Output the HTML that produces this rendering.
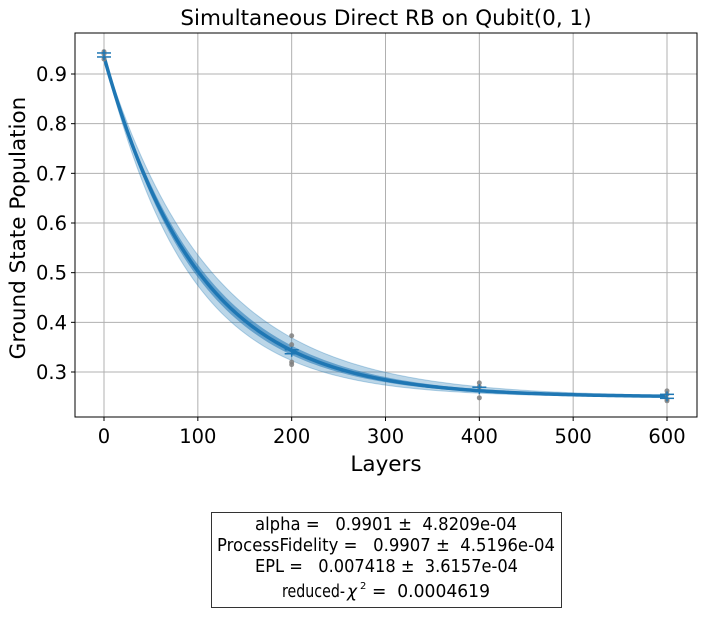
<!DOCTYPE html>
<html><head><meta charset="utf-8"><style>
body{margin:0;background:#fff;}
svg text{font-family:"DejaVu Sans","Liberation Sans",sans-serif;fill:#000;white-space:pre;}
</style></head><body>
<svg id="chart" width="706" height="612" xmlns="http://www.w3.org/2000/svg">
<rect width="706" height="612" fill="#fff"/>
<g id="grid"></g>
<g id="band"></g>
<g id="pts"></g>
<g id="ticks"></g>
<rect x="75" y="33" width="622" height="384" fill="none" stroke="#000" stroke-width="1"/>
<text x="386" y="25" style="font-size:21.5px" text-anchor="middle">Simultaneous Direct RB on Qubit(0, 1)</text>
<text x="386" y="471" style="font-size:21.5px" text-anchor="middle">Layers</text>
<text transform="translate(25,228) rotate(-90)" style="font-size:21.5px" text-anchor="middle">Ground State Population</text>
<g>
<rect x="211.5" y="512.5" width="350" height="95" fill="#fff" stroke="#333" stroke-width="1"/>
<text x="255" y="530" style="font-size:17.5px" textLength="262" lengthAdjust="spacingAndGlyphs">alpha =   0.9901 ±  4.8209e-04</text>
<text x="217" y="551" style="font-size:17.5px" textLength="338" lengthAdjust="spacingAndGlyphs">ProcessFidelity =   0.9907 ±  4.5196e-04</text>
<text x="255" y="572" style="font-size:17.5px" textLength="263" lengthAdjust="spacingAndGlyphs">EPL =   0.007418 ±  3.6157e-04</text>
<text x="282" y="597" style="font-size:17.5px" textLength="63" lengthAdjust="spacingAndGlyphs">reduced-</text>
<text x="347" y="597" style="font-size:17px;font-style:italic">χ</text>
<text x="360" y="589" style="font-size:10px">2</text>
<text x="372" y="597" style="font-size:17.5px" textLength="118" lengthAdjust="spacingAndGlyphs">=  0.0004619</text>
</g>
</svg>
<script>
const xTicks=[0,100,200,300,400,500,600];
const yTicks=[0.3,0.4,0.5,0.6,0.7,0.8,0.9];
const layers=[0,200,400,600];
const shots=[[0.945,0.94,0.93],[0.373,0.355,0.32,0.315],[0.278,0.27,0.248],[0.262,0.255,0.245,0.242]];
const fitAlpha=0.9901;
const fitA=0.6855;
const fitB=0.2495;
const NS="http://www.w3.org/2000/svg";
const X=v=>104+v*(563/600);
const Y=v=>372-(v-0.3)*(298/0.6);
function mk(t,a,p){const e=document.createElementNS(NS,t);for(const k in a)e.setAttribute(k,a[k]);(p||document.getElementById('chart')).appendChild(e);return e;}
const grid=document.getElementById('grid'),ticks=document.getElementById('ticks');
xTicks.forEach(v=>{
 const l=mk('line',{x1:X(v),x2:X(v),y1:33,y2:417,stroke:'#b0b0b0','stroke-width':1},grid);
 
 
 mk('line',{x1:X(v),x2:X(v),y1:417,y2:421,stroke:'#000'},ticks);
 const t=mk('text',{x:X(v),y:443,style:'font-size:19.5px','text-anchor':'middle'},ticks);t.textContent=v;
 
 
});
yTicks.forEach(v=>{
 const l=mk('line',{x1:75,x2:697,y1:Y(v),y2:Y(v),stroke:'#b0b0b0','stroke-width':1},grid);
 
 
 mk('line',{x1:71,x2:75,y1:Y(v),y2:Y(v),stroke:'#000'},ticks);
 const t=mk('text',{x:67,y:Y(v)+7,style:'font-size:19.5px','text-anchor':'end'},ticks);t.textContent=v.toFixed(1);
 
 
});
const f=(x,a)=>fitA*Math.pow(a,x)+fitB;
function bandPath(d){let up=[],lo=[];for(let x=0;x<=600;x+=5){up.push(X(x)+','+Y(f(x,fitAlpha+d)));lo.unshift(X(x)+','+Y(f(x,fitAlpha-d)));}return 'M'+up.join('L')+'L'+lo.join('L')+'Z';}
const band=document.getElementById('band');
const b1=mk('path',{d:bandPath(0.0012),fill:'#1f77b4','fill-opacity':0.3,stroke:'#1f77b4','stroke-opacity':0.3},band);


const b2=mk('path',{d:bandPath(0.0005),fill:'#1f77b4','fill-opacity':0.55},band);


let pts=[];for(let x=0;x<=600;x+=3)pts.push(X(x)+','+Y(f(x,fitAlpha)));
const fl=mk('polyline',{points:pts.join(' '),fill:'none',stroke:'#1f77b4','stroke-width':3.5},band);


const pg=document.getElementById('pts');
layers.forEach((L,i)=>{
 shots[i].forEach(v=>{const c=mk('circle',{cx:X(L),cy:Y(v),r:2.5,fill:'#808080','fill-opacity':0.85},pg);
 
 });
 const m=shots[i].reduce((a,b)=>a+b,0)/shots[i].length;
 const g=mk('g',{stroke:'#1f77b4','stroke-width':1.5},pg);
 
 
 mk('line',{x1:X(L)-7,x2:X(L)+7,y1:Y(m)-2,y2:Y(m)-2},g);
 mk('line',{x1:X(L)-7,x2:X(L)+7,y1:Y(m)+2,y2:Y(m)+2},g);
 mk('line',{x1:X(L),x2:X(L),y1:Y(m)-5,y2:Y(m)+5},g);
});
</script>
</body></html>
